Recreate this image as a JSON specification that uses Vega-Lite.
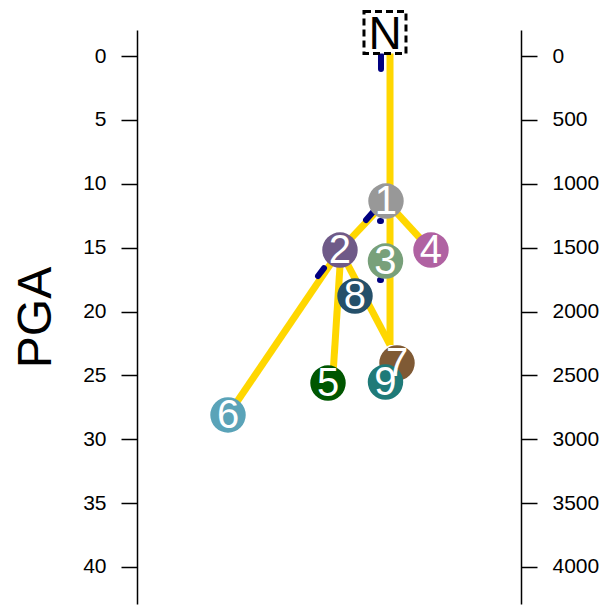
{
  "$schema": "https://vega.github.io/schema/vega-lite/v6.json",
  "width": 384,
  "height": 574,
  "autosize": {"type": "none"},
  "padding": {"left": 137, "top": 30, "right": 87, "bottom": 2},
  "background": "white",
  "config": {
    "view": {"stroke": null},
    "axis": {
      "grid": false,
      "domainColor": "black",
      "domainWidth": 1.5,
      "tickColor": "black",
      "tickWidth": 1.5,
      "tickSize": 16,
      "labelFont": "Liberation Sans",
      "labelFontSize": 21,
      "labelFontWeight": "normal",
      "labelColor": "black",
      "labelPadding": 15,
      "titleFont": "Liberation Sans",
      "titleFontSize": 48,
      "titleFontWeight": "normal",
      "titleColor": "black"
    }
  },
  "datasets": {
    "edges": [
      {"x1": 65.89, "y1": -0.23, "x2": 65.89, "y2": 22.62},
      {"x1": 64.84, "y1": 11.35, "x2": 52.86, "y2": 15.19},
      {"x1": 64.84, "y1": 11.35, "x2": 76.56, "y2": 15.19},
      {"x1": 52.86, "y1": 15.19, "x2": 23.70, "y2": 28.10},
      {"x1": 53.13, "y1": 15.19, "x2": 51.04, "y2": 24.97},
      {"x1": 52.86, "y1": 15.19, "x2": 65.89, "y2": 22.62}
    ],
    "branchmarks": [
      {"x1": 63.54, "y1": -0.08, "x2": 63.54, "y2": 1.02},
      {"x1": 59.64, "y1": 12.84, "x2": 61.46, "y2": 12.21},
      {"x1": 63.28, "y1": 12.92, "x2": 63.54, "y2": 12.92},
      {"x1": 47.14, "y1": 17.22, "x2": 48.70, "y2": 16.60},
      {"x1": 63.28, "y1": 17.53, "x2": 63.54, "y2": 17.53}
    ],
    "nodes": [
      {"label": "1", "x": 64.84, "y": 11.35, "col": "#989898"},
      {"label": "2", "x": 52.86, "y": 15.19, "col": "#6f5a88"},
      {"label": "3", "x": 64.71, "y": 16.05, "col": "#78a07a"},
      {"label": "4", "x": 76.56, "y": 15.19, "col": "#b062a2"},
      {"label": "8", "x": 56.77, "y": 18.79, "col": "#25506a"},
      {"label": "7", "x": 67.71, "y": 24.03, "col": "#7f5a35"},
      {"label": "9", "x": 64.71, "y": 25.52, "col": "#1f7a78"},
      {"label": "5", "x": 49.74, "y": 25.60, "col": "#005600"},
      {"label": "6", "x": 23.70, "y": 28.10, "col": "#5aa3b8"}
    ],
    "rootnode": [
      {"label": "N", "x": 64.58, "y": -1.84}
    ],
    "rightaxis": [
      {"r": 0}
    ]
  },
  "layer": [
    {
      "layer": [
        {
          "data": {"name": "edges"},
          "mark": {"type": "rule", "color": "#FFD700", "strokeWidth": 7},
          "encoding": {
            "x": {"field": "x1", "type": "quantitative", "scale": {"domain": [0, 100], "nice": false, "zero": false}, "axis": null},
            "y": {"field": "y1", "type": "quantitative", "scale": {"domain": [-2.04, 42.9], "reverse": true, "nice": false, "zero": false},
                  "axis": {"orient": "left", "values": [0, 5, 10, 15, 20, 25, 30, 35, 40], "format": "d", "title": "PGA", "titlePadding": 22}},
            "x2": {"field": "x2"},
            "y2": {"field": "y2"}
          }
        },
        {
          "data": {"name": "branchmarks"},
          "mark": {"type": "rule", "color": "#000080", "strokeWidth": 6, "strokeCap": "round"},
          "encoding": {
            "x": {"field": "x1", "type": "quantitative"},
            "y": {"field": "y1", "type": "quantitative"},
            "x2": {"field": "x2"},
            "y2": {"field": "y2"}
          }
        },
        {
          "data": {"name": "nodes"},
          "mark": {"type": "circle", "size": 1257, "opacity": 1},
          "encoding": {
            "x": {"field": "x", "type": "quantitative"},
            "y": {"field": "y", "type": "quantitative"},
            "color": {"field": "col", "type": "nominal", "scale": null}
          }
        },
        {
          "data": {"name": "nodes"},
          "mark": {"type": "text", "font": "Liberation Sans", "fontSize": 40, "color": "white", "align": "center", "baseline": "middle", "dy": 1},
          "encoding": {
            "x": {"field": "x", "type": "quantitative"},
            "y": {"field": "y", "type": "quantitative"},
            "text": {"field": "label"}
          }
        },
        {
          "data": {"name": "rootnode"},
          "mark": {"type": "square", "size": 1764, "filled": true, "fill": "white", "stroke": "black", "strokeWidth": 3, "strokeDash": [7, 4], "opacity": 1},
          "encoding": {
            "x": {"field": "x", "type": "quantitative"},
            "y": {"field": "y", "type": "quantitative"}
          }
        },
        {
          "data": {"name": "rootnode"},
          "mark": {"type": "text", "font": "Liberation Sans", "fontSize": 46, "color": "black", "align": "center", "baseline": "middle", "dy": 2},
          "encoding": {
            "x": {"field": "x", "type": "quantitative"},
            "y": {"field": "y", "type": "quantitative"},
            "text": {"field": "label"}
          }
        }
      ]
    },
    {
      "data": {"name": "rightaxis"},
      "mark": {"type": "point", "opacity": 0},
      "encoding": {
        "y": {"field": "r", "type": "quantitative", "scale": {"domain": [-204, 4290], "reverse": true, "nice": false, "zero": false},
              "axis": {"orient": "right", "values": [0, 500, 1000, 1500, 2000, 2500, 3000, 3500, 4000], "format": "d", "title": null}}
      }
    }
  ],
  "resolve": {"scale": {"y": "independent"}, "axis": {"y": "independent"}}
}
